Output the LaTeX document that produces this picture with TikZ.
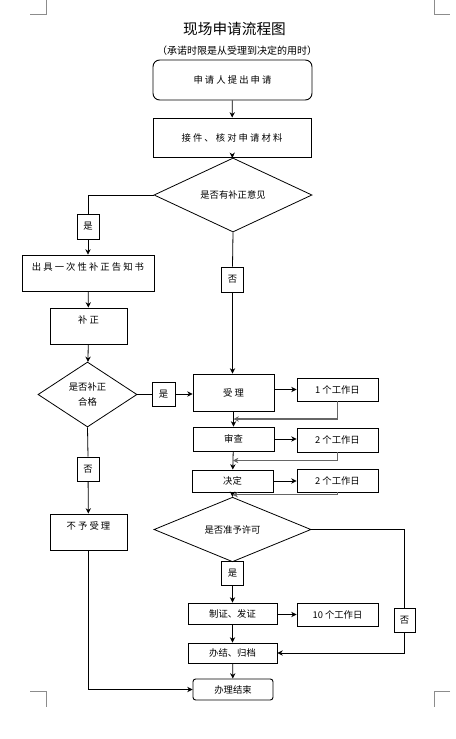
\documentclass[tikz,border=0pt]{standalone}
\usepackage{fontspec}
\setmainfont{Noto Sans CJK SC}
\usetikzlibrary{shapes.geometric, arrows.meta, calc}

\begin{document}
\begin{tikzpicture}[
    x=0.75pt, y=-0.75pt,
    block/.style={rectangle, draw, line width=0.7pt, inner sep=1pt, align=center, font=\fontsize{7}{9}\selectfont},
    startstop/.style={block, rounded corners=#1},
    decision/.style={diamond, draw, line width=0.6pt, inner sep=0pt, align=center, font=\fontsize{7}{11}\selectfont},
    tagbox/.style={block, minimum width=16.5pt, minimum height=18pt},
    daybox/.style={block, minimum width=60.75pt, minimum height=17.25pt},
    toptext/.style={text height=7pt, text depth=11pt},
    arrow/.style={-{Stealth[length=4pt, width=4pt]}, line width=0.6pt},
    link/.style={line width=0.6pt},
    feedback/.style={arrow, draw=black!60, line width=0.9pt},
    cropmark/.style={draw=black!45, line width=0.6pt},
]
\useasboundingbox (0,0) rectangle (456,739);

% Page corners
\draw[cropmark] (46,0) -- (46,14) -- (30,14);
\draw[cropmark] (434,0) -- (434,14) -- (450,14);
\draw[cropmark] (30,691) -- (46,691) -- (46,707);
\draw[cropmark] (450,691) -- (434,691) -- (434,707);

% Title
\node[font=\fontsize{11}{13}\selectfont] (title) at (234.5, 29) {现场申请流程图};
\node[font=\fontsize{7.5}{9}\selectfont] (subtitle) at (237, 51) {（承诺时限是从受理到决定的用时）};

% Main flow
\node[startstop=5pt, minimum width=119.25pt, minimum height=30pt] (apply) at (232.5, 80) {申 请 人 提 出 申 请};
\node[block, minimum width=118.5pt, minimum height=29.25pt] (check) at (232, 137.5) {接 件 、 核 对 申 请 材 料};
\node[decision, minimum width=118.5pt, minimum height=29.25pt] (dq1) at (233, 195) {是否有补正意见};
\node[tagbox, minimum height=18.75pt] (no1) at (232.5, 279.5) {否};

\node[block, minimum width=60.75pt, minimum height=27.75pt] (accept) at (233.5, 392.5) {受 理};
\node[block, minimum width=60.75pt, minimum height=18pt] (review) at (233.5, 439) {审查};
\node[block, minimum width=60.75pt, minimum height=16.5pt] (decide) at (232.5, 481) {决定};
\node[daybox] (day1) at (337.5, 389.5) {1 个工作日};
\node[daybox, minimum height=18pt] (day2) at (337.5, 440) {2 个工作日};
\node[daybox] (day3) at (337.5, 480.5) {2 个工作日};

\node[decision, minimum width=117.75pt, minimum height=29.25pt] (dq3) at (232.5, 529.5) {是否准予许可};
\node[tagbox] (yes3) at (232.5, 573) {是};
\node[block, minimum width=66.75pt, minimum height=15.75pt] (issue) at (232.5, 613.5) {制证、发证};
\node[daybox] (day4) at (337.5, 614.5) {10 个工作日};
\node[tagbox, minimum width=15.75pt] (no3) at (404.5, 620) {否};
\node[block, minimum width=66.75pt, minimum height=15pt] (archive) at (232.5, 653) {办结、归档};
\node[startstop=2pt, minimum width=60pt, minimum height=15.75pt] (finish) at (233, 689.5) {办理结束};

% Correction branch
\node[tagbox, minimum height=18.75pt] (yes1) at (88, 226.5) {是};
\node[block, toptext, minimum width=99pt, minimum height=27pt] (notice) at (88, 273) {出 具 一 次 性 补 正 告 知 书};
\node[block, toptext, minimum width=57.75pt, minimum height=27pt] (supp) at (88.5, 326) {补 正};
\node[decision, minimum width=74.25pt, minimum height=48.75pt] (dq2) at (87.5, 394.5) {是否补正\\合格};
\node[tagbox, minimum width=17.25pt] (yes2) at (163.5, 394) {是};
\node[tagbox] (no2) at (88, 469) {否};
\node[block, toptext, minimum width=57.75pt, minimum height=27pt] (reject) at (88.5, 532) {不 予 受 理};

% Connections
\draw[arrow] (apply) -- (check);
\draw[arrow] (check) -- (dq1);
\draw[link] (dq1.west) -| (yes1.north);
\draw[arrow] (yes1) -- (notice);
\draw[arrow] (notice) -- (supp);
\draw[arrow] (supp) -- (dq2);
\draw[link] (dq2.east) -- (dq2.east -| yes2.west);
\draw[arrow] (yes2.east) -- (yes2.east -| accept.west);
\draw[link] (dq2.south) -- (no2.north);
\draw[arrow] (no2) -- (reject);
\draw[arrow] (reject.south) |- (finish.west);

\draw[link] (dq1.south) -- (no1.north);
\draw[arrow] (no1.south) -- (no1.south |- accept.north);
\draw[arrow] (accept) -- (review);
\draw[arrow] (review) -- (decide);
\draw[arrow] (decide) -- (dq3);
\draw[arrow] (accept.east |- day1.west) -- (day1.west);
\draw[arrow] (review.east) -- (review.east -| day2.west);
\draw[arrow] (decide.east) -- (decide.east -| day3.west);
\draw[feedback] (day1.south) |- ($(accept.south)!0.5!(review.north)$);
\draw[feedback] (day2.south) |- ($(review.south)!0.5!(decide.north)$);
\draw[feedback] (day3.south) |- ($(decide.south)!0.5!(dq3.north)$);

\draw[link] (dq3.south) -- (yes3.north);
\draw[arrow] (yes3) -- (issue);
\draw[arrow] (issue.east |- day4.west) -- (day4.west);
\draw[arrow] (issue) -- (archive);
\draw[arrow] (archive) -- (finish);
\draw[link] (dq3.east) -| (no3.north);
\draw[arrow] (no3.south) |- (archive.east);

\end{tikzpicture}
\end{document}
